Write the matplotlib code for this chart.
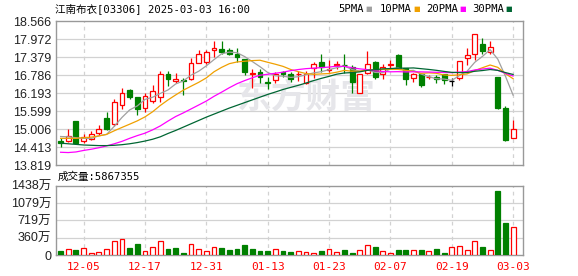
import matplotlib
matplotlib.use("Agg")
import matplotlib.pyplot as plt
import numpy as np
import pandas as pd

# trading days shown
dates = ["12-02", "12-03", "12-04", "12-05", "12-06", "12-09", "12-10", "12-11", "12-12", "12-13",
         "12-16", "12-17", "12-18", "12-19", "12-20", "12-23", "12-24", "12-27", "12-30", "12-31",
         "01-02", "01-03", "01-06", "01-07", "01-08", "01-09", "01-10", "01-13", "01-14", "01-15",
         "01-16", "01-17", "01-20", "01-21", "01-22", "01-23", "01-24", "01-27", "01-28",
         "02-03", "02-04", "02-05", "02-06", "02-07", "02-10", "02-11", "02-12", "02-13", "02-14",
         "02-17", "02-18", "02-19", "02-20", "02-21", "02-24", "02-25", "02-26", "02-27", "02-28",
         "03-03"]
tick_dates = ["12-05", "12-17", "12-31", "01-13", "01-23", "02-07", "02-19", "03-03"]

opens = [14.62, 14.61, 15.28, 14.62, 14.68, 14.86, 15.37, 15.18, 15.81, 16.30,
         16.05, 15.69, 15.92, 16.08, 16.82, 16.59, 16.64, 16.66, 17.20, 17.23,
         17.63, 17.65, 17.61, 17.47, 17.32, 16.83, 16.90, 16.55, 16.62, 16.88,
         16.84, 16.81, 16.52, 17.03, 17.22, 16.95, 17.13, 17.13, 17.07, 16.21,
         16.87, 17.21, 16.81, 17.11, 17.45, 17.01, 16.68, 16.82, 16.71, 16.72,
         16.82, 16.60, 16.68, 17.34, 17.48, 17.83, 17.56, 16.71, 15.69, 14.71]
closes = [14.56, 14.78, 14.56, 14.74, 14.84, 15.00, 15.01, 15.90, 16.20, 16.08,
          15.66, 16.09, 16.26, 16.82, 16.66, 16.65, 16.59, 17.20, 17.48, 17.55,
          17.68, 17.56, 17.47, 17.39, 16.90, 16.86, 16.71, 16.52, 16.84, 16.84,
          16.65, 16.83, 16.84, 17.15, 17.04, 16.98, 17.16, 17.11, 16.57, 16.81,
          17.17, 16.73, 17.07, 17.16, 17.01, 16.67, 16.82, 16.46, 16.73, 16.66,
          16.62, 16.60, 17.26, 17.45, 18.13, 17.59, 17.72, 15.69, 14.63, 15.00]
highs = [14.71, 15.01, 15.28, 14.84, 14.95, 15.13, 15.57, 15.99, 16.37, 16.33,
         16.07, 16.20, 16.45, 16.91, 16.93, 16.87, 16.68, 17.36, 17.61, 17.63,
         17.91, 17.91, 17.68, 17.68, 17.33, 16.98, 17.00, 16.71, 16.90, 16.93,
         16.90, 16.93, 16.93, 17.21, 17.48, 17.28, 17.24, 17.49, 17.12, 16.84,
         17.58, 17.24, 17.17, 17.28, 17.47, 17.03, 16.87, 16.84, 16.79, 16.79,
         16.84, 16.68, 17.27, 17.67, 18.16, 18.00, 17.91, 16.72, 15.77, 15.31]
lows = [14.40, 14.58, 14.56, 14.56, 14.65, 14.81, 14.96, 15.11, 15.66, 16.01,
        15.48, 15.58, 15.87, 15.91, 16.43, 16.52, 16.13, 16.62, 17.19, 17.16,
        17.39, 17.50, 17.44, 17.22, 16.79, 16.36, 16.52, 16.32, 16.54, 16.73,
        16.57, 16.60, 16.49, 16.68, 16.88, 16.89, 16.98, 16.87, 16.21, 16.20,
        16.82, 16.65, 16.65, 17.01, 17.00, 16.47, 16.57, 16.41, 16.65, 16.52,
        16.48, 16.43, 16.62, 17.12, 17.28, 17.47, 17.49, 15.68, 14.60, 14.70]

# volume in 万 shares, colour flag 1 = up (red), 0 = down (green)
volume = [83, 117, 104, 138, 41, 62, 124, 290, 325, 152,
          228, 83, 159, 290, 124, 145, 48, 228, 124, 83,
          159, 145, 104, 124, 207, 124, 83, 83, 117, 83,
          62, 76, 55, 41, 83, 117, 62, 104, 41, 97,
          200, 166, 76, 41, 104, 104, 104, 104, 76, 124,
          41, 159, 180, 104, 290, 166, 97, 1327, 663, 586.7355]
vol_up = [0, 1, 0, 1, 1, 1, 1, 1, 1, 0,
          0, 1, 1, 1, 0, 0, 0, 1, 1, 1,
          1, 0, 0, 0, 0, 0, 0, 0, 1, 0,
          0, 1, 1, 1, 0, 1, 1, 0, 0, 1,
          1, 0, 1, 1, 0, 0, 1, 0, 1, 0,
          0, 1, 1, 1, 1, 0, 1, 0, 0, 1]

# moving average values before the window is full
ma5_head = [14.76, 14.75, 14.72, 14.70]
ma10_head = [14.70, 14.70, 14.70, 14.72, 14.74, 14.78, 14.83, 14.95, 15.06]
ma20_head = [14.24, 14.23, 14.25, 14.30, 14.34, 14.39, 14.45, 14.52, 14.60, 14.70,
             14.79, 14.87, 14.98, 15.11, 15.27, 15.42, 15.54, 15.67, 15.80]
ma30_head = [14.54, 14.52, 14.50, 14.48, 14.47, 14.46, 14.46, 14.47, 14.49, 14.52,
             14.56, 14.61, 14.67, 14.75, 14.86, 14.96, 15.07, 15.18, 15.29, 15.40,
             15.50, 15.60, 15.70, 15.79, 15.88, 15.97, 16.06, 16.15, 16.23]

price_ticks = ["13.819", "14.413", "15.006", "15.599", "16.193", "16.786", "17.379", "17.972", "18.566"]
vol_ticks = [0, 359.5, 719, 1078.5, 1438]
vol_tick_labels = ["0", "360万", "719万", "1079万", "1438万"]

RED = "#ff0000"
GREEN = "#008000"
GRID = "#d2d2d2"
FRAME = "#999999"
ma_colors = ["#a0a0a0", "#f0a000", "#ff00ff", "#006633"]
ma_names = ["5PMA", "10PMA", "20PMA", "30PMA"]

mono = ["DejaVu Sans Mono", "Noto Sans CJK SC"]
lab = ["Liberation Sans", "Noto Sans CJK SC"]

s = pd.Series(closes)
mas = []
for n, head in zip([5, 10, 20, 30], [ma5_head, ma10_head, ma20_head, ma30_head]):
    m = s.rolling(n).mean().values
    m[:len(head)] = head
    mas.append(m)

x = np.arange(len(dates))
o = np.array(opens); c = np.array(closes)

W, H = 578, 276
fig = plt.figure(figsize=(W / 100, H / 100), dpi=100)

def px_axes(l, t, r, b):
    return fig.add_axes([l / W, 1 - b / H, (r - l) / W, (b - t) / H])

ax = px_axes(56, 21.3, 522.7, 165)
axv = px_axes(56, 185.7, 522.7, 255)

xt = [dates.index(d) for d in tick_dates]
for a in (ax, axv):
    a.set_xlim(-0.6, 60.25)
    for sp in a.spines.values():
        sp.set_color(FRAME)
        sp.set_linewidth(1.0)
    a.tick_params(length=0)
    for xi in xt:
        a.axvline(xi, color=GRID, lw=0.9, ls=(0, (3, 3)), zorder=0)

# price panel
pt = [float(t) for t in price_ticks]
ax.set_ylim(pt[0], pt[-1])
ax.set_yticks(pt)
ax.set_yticklabels(price_ticks, family=lab, fontsize=9, color="#222222")
ax.set_xticks([])
for v in pt[1:-1]:
    ax.axhline(v, color=GRID, lw=0.9, zorder=0)

ax.text(0.536, 0.47, "东方财富", transform=ax.transAxes, ha="center", va="center",
        fontsize=25, fontweight="bold", color="#e6e6ea", family="Noto Sans CJK SC", zorder=0.5)

up = c > o
doji = c == o
col = np.where(doji, "black", np.where(up, RED, GREEN))
ax.vlines(x, lows, highs, colors=col, lw=0.9, zorder=2)
body_bot = np.minimum(o, c)
body_h = np.abs(c - o)
ax.bar(x, body_h, bottom=body_bot, width=0.64,
       facecolor=np.where(up, "white", np.where(doji, "black", GREEN)),
       edgecolor=col, linewidth=0.9, zorder=3)

for m, colr in zip(mas, ma_colors):
    ax.plot(x, m, color=colr, lw=0.9, zorder=4)

# volume panel
vcol = np.where(np.array(vol_up) == 1, RED, GREEN)
axv.bar(x, volume, width=0.64, facecolor=np.where(np.array(vol_up) == 1, "white", GREEN),
        edgecolor=vcol, linewidth=0.9, zorder=3)
axv.set_ylim(0, 1438)
axv.set_yticks(vol_ticks)
axv.set_yticklabels(vol_tick_labels, family=lab, fontsize=9, color="#222222")
for v in vol_ticks[1:-1]:
    axv.axhline(v, color=GRID, lw=0.9, zorder=0)
axv.set_xticks(xt)
axv.set_xticklabels(tick_dates, family="DejaVu Sans Mono", fontsize=8, color=RED)
axv.tick_params(axis="x", pad=5)

# header texts
fig.text(55 / W, 1 - 8.5 / H, "江南布衣[03306] 2025-03-03 16:00", family=mono, fontsize=7.6,
         va="center", ha="left", color="black")
fig.text(58 / W, 1 - 177 / H, "成交量:5867355", family=mono, fontsize=7.6,
         va="center", ha="left", color="black")
leg_x = [338, 380, 426, 472]
sq_x = [365, 413, 459, 505]
for name, colr, lx, sx in zip(ma_names, ma_colors, leg_x, sq_x):
    fig.text(lx / W, 1 - 8.5 / H, name, family=mono, fontsize=7.6, va="center", ha="left")
    fig.text(sx / W, 1 - 8.5 / H, "■", family=["DejaVu Sans"], fontsize=5, va="center",
             ha="left", color=colr)

fig.savefig("out.png", dpi=100)
